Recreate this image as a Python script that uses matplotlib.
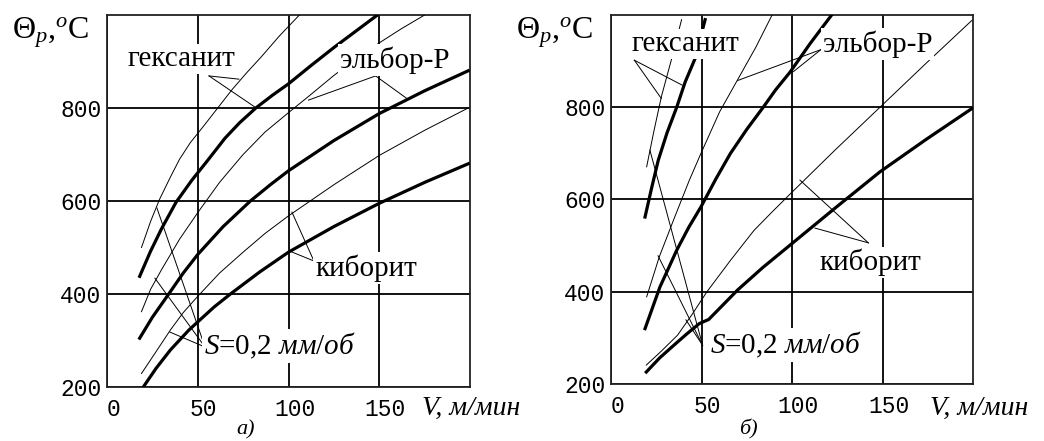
import matplotlib
matplotlib.use("Agg")
import matplotlib.pyplot as plt
from matplotlib.transforms import ScaledTranslation

plt.rcParams["font.family"] = ["Liberation Serif", "DejaVu Serif"]
plt.rcParams["mathtext.fontset"] = "custom"
plt.rcParams["mathtext.rm"] = "Liberation Serif"
plt.rcParams["mathtext.it"] = "Liberation Serif:italic"

# ---- а) ----  V, м/мин -> температура, °C
a_v_t1 = [19, 24, 29, 35, 40, 46, 53, 61, 69, 77, 85, 95, 106]
a_t_t1 = [500, 556, 604, 652, 690, 726, 760, 800, 840, 876, 910, 955, 1000]
a_v_k1 = [18, 24, 30, 38, 46.8, 55, 65, 73, 82, 91, 100, 112, 125, 137, 149]
a_t_k1 = [438, 492, 540, 597, 645, 685, 735, 768, 800, 827, 852, 890, 930, 965, 1000]
a_v_t2 = [19, 24, 30, 40, 50, 62, 75, 87, 100, 112, 125, 137, 150, 162, 175]
a_t_t2 = [362, 410, 452, 518, 575, 640, 700, 748, 790, 828, 870, 905, 940, 970, 1000]
a_v_k2 = [18, 25, 34, 42, 50, 64, 79, 90, 100, 125, 150, 175, 199]
a_t_k2 = [305, 350, 400, 445, 485, 545, 600, 635, 665, 730, 788, 837, 880]
a_v_t3 = [19, 26, 35, 42, 50, 62, 75, 87, 100, 125, 150, 175, 199]
a_t_t3 = [229, 270, 323, 360, 395, 445, 490, 530, 568, 635, 698, 752, 800]
a_v_k3 = [20, 27, 35, 45, 50, 59, 68, 84, 100, 125, 150, 175, 199]
a_t_k3 = [200, 240, 280, 322, 340, 372, 400, 447, 490, 545, 595, 640, 680]

# ---- б) ----
b_v_t1 = [19.7, 23.8, 27.9, 33.5, 39]
b_t_t1 = [671, 750, 824, 905, 990]
b_v_k1 = [18.8, 22.5, 26.1, 31, 36.3, 41, 46.4, 52]
b_t_k1 = [562, 626, 685, 745, 800, 855, 905, 990]
b_v_t2 = [19.7, 26.7, 35, 43.3, 49.7, 60, 70, 80, 89]
b_t_t2 = [389, 476, 560, 642, 700, 790, 860, 930, 1000]
b_v_k2 = [18.8, 27, 36.3, 43, 49.7, 58, 66, 75, 84.1, 91, 98.9, 110, 121.9]
b_t_k2 = [320, 410, 490, 540, 584, 645, 700, 752, 800, 838, 876, 938, 1000]
b_v_t3 = [19.5, 28, 36.8, 45, 53, 66, 79, 89, 99, 124, 148.6, 174, 199.3]
b_t_t3 = [241, 272, 306, 352, 400, 468, 533, 573, 612, 708, 800, 895, 988]
b_v_k3 = [19.5, 27, 35, 42, 48.8, 54, 62, 70, 84, 98.9, 124, 148.6, 174, 199.3]
b_t_k3 = [226, 257, 285, 309, 331, 340, 372, 404, 453, 501, 582, 660, 730, 797]

x_ticks = [0, 50, 100, 150]
y_ticks = [200, 400, 600, 800]

W, H = 1044, 441
fig = plt.figure(figsize=(W / 100, H / 100), dpi=100)


def px_axes(x0, y0, x1, y1):
    return fig.add_axes([x0 / W, 1 - y1 / H, (x1 - x0) / W, (y1 - y0) / H])


def note(ax, text, xy, ha="center", size=21):
    ax.text(xy[0], xy[1], text, ha=ha, va="center", fontsize=size, zorder=6,
            bbox=dict(facecolor="white", edgecolor="none", pad=1.5))


def leader(ax, origin, ends):
    for e in ends:
        ax.plot([origin[0], e[0]], [origin[1], e[1]], color="black", lw=0.7, zorder=5)


def setup(ax):
    ax.set_xlim(0, 200)
    ax.set_ylim(200, 1000)
    ax.set_xticks(x_ticks)
    ax.set_yticks(y_ticks)
    ax.set_xticklabels([str(v) for v in x_ticks], family="Liberation Mono", fontsize=16.5)
    ax.set_yticklabels([str(v) for v in y_ticks], family="Liberation Mono", fontsize=16.5)
    ax.tick_params(length=0, pad=4)
    ax.tick_params(axis="x", pad=8)
    for lab in ax.get_xticklabels():
        lab.set_transform(lab.get_transform() + ScaledTranslation(0.06, 0, fig.dpi_scale_trans))
    ax.grid(True, color="black", lw=1.3)
    ax.set_axisbelow(True)
    for s in ax.spines.values():
        s.set_linewidth(1.3)
        s.set_color("#222222")


def curves(ax, thin, thick):
    for v, t in thin:
        ax.plot(v, t, color="black", lw=0.7, zorder=3)
    for v, t in thick:
        ax.plot(v, t, color="black", lw=2.3, zorder=4)


# панель а)
ax1 = px_axes(107, 15, 470, 387)
setup(ax1)
curves(ax1, [(a_v_t1, a_t_t1), (a_v_t2, a_t_t2), (a_v_t3, a_t_t3)],
       [(a_v_k1, a_t_k1), (a_v_k2, a_t_k2), (a_v_k3, a_t_k3)])
note(ax1, "гексанит", (40.8, 905))
leader(ax1, (56.2, 869), [(72.7, 862), (81.5, 802)])
note(ax1, "эльбор-Р", (158.7, 903))
leader(ax1, (148, 869), [(111, 817), (165, 821)])
note(ax1, "киборит", (142.7, 456))
leader(ax1, (114, 471), [(101.9, 576), (100.8, 492)])
note(ax1, r"$S$=0,2 $\mathit{мм/об}$", (53.5, 288), ha="left")
leader(ax1, (54, 286), [(27.5, 585), (26.4, 434), (34.7, 318)])

# панель б)
ax2 = px_axes(611, 15, 973, 384)
setup(ax2)
curves(ax2, [(b_v_t1, b_t_t1), (b_v_t2, b_t_t2), (b_v_t3, b_t_t3)],
       [(b_v_k1, b_t_k1), (b_v_k2, b_t_k2), (b_v_k3, b_t_k3)])
note(ax2, "гексанит", (40.9, 937))
leader(ax2, (12.9, 902), [(27.8, 819), (39.3, 848)])
note(ax2, "эльбор-Р", (147.2, 937))
leader(ax2, (116, 925), [(70, 858), (100.7, 877)])
note(ax2, "киборит", (143.1, 463))
leader(ax2, (142.2, 506), [(104.4, 642), (112.7, 538)])
note(ax2, r"$S$=0,2 $\mathit{мм/об}$", (54.7, 284), ha="left")
leader(ax2, (50.6, 284), [(21.5, 707), (26, 478), (41.4, 339)])

# подписи осей
for x0 in (12, 516):
    fig.text(x0 / W, 1 - 33 / H, r"$\Theta_{p}$,$^{o}$C", fontsize=23, va="center", ha="left")
for x0 in (422, 930):
    fig.text(x0 / W, 1 - 408 / H, "V, м/мин", fontsize=20, style="italic", va="center", ha="left")
fig.text(246 / W, 2 / H, "а)", fontsize=16, style="italic", va="bottom", ha="center")
fig.text(748 / W, 2 / H, "б)", fontsize=16, style="italic", va="bottom", ha="center")

fig.savefig("out.png", dpi=100)
